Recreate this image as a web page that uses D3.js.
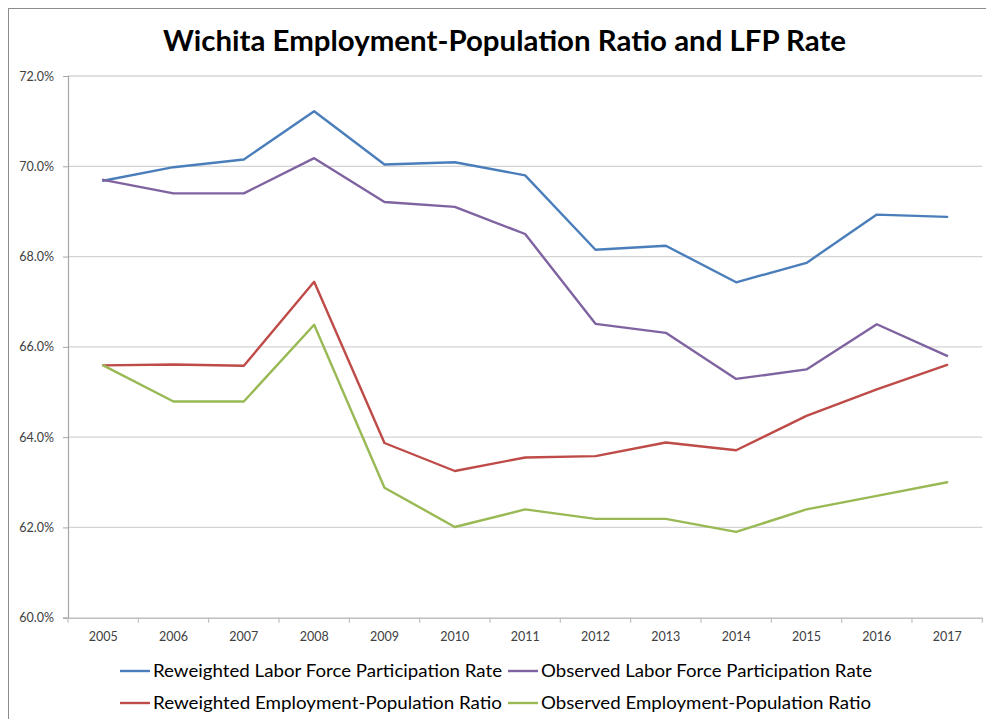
<!DOCTYPE html>
<html>
<head>
<meta charset="utf-8">
<script src="https://cdn.jsdelivr.net/npm/d3@7"></script>
<style>
  html, body { margin: 0; padding: 0; background: #fff; }
  svg { display: block; }
</style>
</head>
<body>
<svg id="chart" width="986" height="719"></svg>
<script>
// Wichita labor market series, percent
const years = ["2005","2006","2007","2008","2009","2010","2011","2012","2013","2014","2015","2016","2017"];
const reweightedLFP = [69.68, 69.98, 70.15, 71.22, 70.04, 70.09, 69.80, 68.15, 68.24, 67.43, 67.86, 68.93, 68.88];
const observedLFP   = [69.70, 69.40, 69.40, 70.18, 69.21, 69.10, 68.50, 66.51, 66.31, 65.29, 65.50, 66.50, 65.80];
const reweightedEPR = [65.59, 65.61, 65.58, 67.44, 63.87, 63.25, 63.55, 63.58, 63.88, 63.71, 64.47, 65.06, 65.60];
const observedEPR   = [65.59, 64.79, 64.79, 66.49, 62.88, 62.01, 62.40, 62.19, 62.19, 61.90, 62.40, 62.70, 63.00];
const yTicks = [60, 62, 64, 66, 68, 70, 72];

const titleText = "Wichita Employment-Population Ratio and LFP Rate";
const seriesNames = [
  "Reweighted Labor Force Participation Rate",
  "Observed Labor Force Participation Rate",
  "Reweighted Employment-Population Ratio",
  "Observed Employment-Population Ratio"
];
const seriesValues = [reweightedLFP, observedLFP, reweightedEPR, observedEPR];
const seriesColors = ["#4a7ebb", "#7f63a1", "#be4b48", "#98b954"];

const svg = d3.select("#chart");
const font = "Lato, 'Open Sans', 'Liberation Sans', sans-serif";

// chart frame
svg.append("rect")
  .attr("x", 8.5).attr("y", 8.5)
  .attr("width", 1000).attr("height", 740)
  .attr("fill", "none").attr("stroke", "#8c8c8c").attr("stroke-width", 1);

const plot = { left: 68, right: 982.3, top: 76, bottom: 617.7 };

const x = d3.scaleBand().domain(years).range([plot.left, plot.right]);
const y = d3.scaleLinear().domain([60, 72]).range([plot.bottom, plot.top]);
const cx = d => x(d) + x.bandwidth() / 2;

// title
svg.append("text")
  .attr("x", 504.5).attr("y", 51)
  .attr("text-anchor", "middle")
  .attr("font-family", font)
  .attr("font-weight", "bold")
  .attr("font-size", 29)
  .attr("fill", "#000")
  .attr("textLength", 683)
  .attr("lengthAdjust", "spacingAndGlyphs")
  .text(titleText);

// horizontal gridlines
svg.append("g")
  .selectAll("line")
  .data(yTicks.filter(t => t !== 60))
  .join("line")
  .attr("x1", plot.left).attr("x2", plot.right)
  .attr("y1", d => y(d)).attr("y2", d => y(d))
  .attr("stroke", "#d4d4d4").attr("stroke-width", 1.3);

// y axis
const yAxis = svg.append("g")
  .attr("transform", `translate(${plot.left},0)`)
  .call(d3.axisLeft(y).tickValues(yTicks).tickSize(5).tickPadding(9)
    .tickFormat(d => d.toFixed(1) + "%"));
yAxis.select(".domain").attr("stroke", "#a6a6a6").attr("stroke-width", 1.2);
yAxis.selectAll(".tick line").attr("stroke", "#a6a6a6");
yAxis.selectAll(".tick text")
  .attr("font-family", font).attr("font-size", 12.5).attr("fill", "#404040");

// x axis: labels centred in each category, tick marks on category boundaries
const xAxis = svg.append("g")
  .attr("transform", `translate(0,${plot.bottom})`)
  .call(d3.axisBottom(x).tickSize(0).tickPadding(14));
xAxis.select(".domain").attr("stroke", "#bfbfbf").attr("stroke-width", 1.5);
xAxis.selectAll(".tick text")
  .attr("font-family", font).attr("font-size", 12.5).attr("fill", "#404040");
xAxis.selectAll("line.bound")
  .data(years.map(d => x(d)).concat([plot.right]))
  .join("line")
  .attr("class", "bound")
  .attr("x1", d => d).attr("x2", d => d)
  .attr("y1", 0).attr("y2", 5)
  .attr("stroke", "#bfbfbf").attr("stroke-width", 1.2);

// series lines
const line = d3.line()
  .x((v, i) => cx(years[i]))
  .y(v => y(v));

svg.append("g")
  .selectAll("path")
  .data(seriesValues)
  .join("path")
  .attr("d", d => line(d))
  .attr("fill", "none")
  .attr("stroke", (d, i) => seriesColors[i])
  .attr("stroke-width", 2.4)
  .attr("stroke-linejoin", "round")
  .attr("stroke-linecap", "round");

// legend, two rows of two entries
const legendPos = [
  { lx: 120, ty: 671, w: 349 },
  { lx: 508, ty: 671, w: 331 },
  { lx: 120, ty: 703, w: 349 },
  { lx: 508, ty: 703, w: 330 }
];
const legend = svg.append("g")
  .selectAll("g")
  .data(seriesNames)
  .join("g")
  .attr("transform", (d, i) => `translate(${legendPos[i].lx},${legendPos[i].ty})`);
legend.append("line")
  .attr("x1", 0).attr("x2", 30).attr("y1", 0).attr("y2", 0)
  .attr("stroke", (d, i) => seriesColors[i]).attr("stroke-width", 2.4);
legend.append("text")
  .attr("x", 33).attr("y", 0).attr("dy", "0.35em")
  .attr("font-family", font).attr("font-size", 17.5).attr("fill", "#000")
  .attr("textLength", (d, i) => legendPos[i].w)
  .attr("lengthAdjust", "spacingAndGlyphs")
  .text(d => d);
</script>
</body>
</html>
